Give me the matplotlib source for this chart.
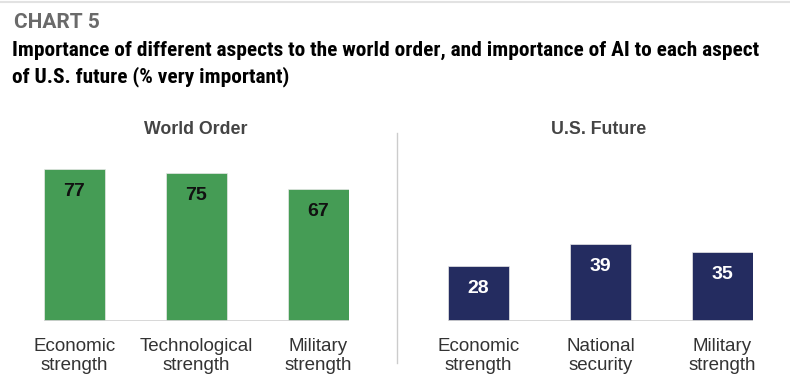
import matplotlib.pyplot as plt
from matplotlib.lines import Line2D

# data
world_labels = ["Economic\nstrength", "Technological\nstrength", "Military\nstrength"]
world_values = [77, 75, 67]
us_labels = ["Economic\nstrength", "National\nsecurity", "Military\nstrength"]
us_values = [28, 39, 35]

W, H = 790, 390
fig = plt.figure(figsize=(W / 100, H / 100), dpi=100)
fig.patch.set_facecolor("white")

green = "#459c55"
navy = "#242c60"
cond = ["Roboto Condensed", "Roboto", "DejaVu Sans"]
sans = ["Liberation Sans", "DejaVu Sans"]

# top rule
fig.add_artist(Line2D([0, 1], [1 - 1.5 / H, 1 - 1.5 / H], color="#e2e2e2", lw=1.5))

fig.text(14 / W, 1 - 13 / H, "CHART 5", family=["Roboto", "DejaVu Sans"], weight="bold",
         fontsize=15, color="#6a6a6a", va="top", ha="left")
title = fig.text(12 / W, 1 - 41 / H,
                 "Importance of different aspects to the world order, and importance of AI to each aspect\n"
                 "of U.S. future (% very important)",
                 family=cond, weight="bold", fontsize=14.5, color="black", va="top", ha="left",
                 linespacing=1.4)
# scale title to the ~750 px width the reference uses
r = fig.canvas.get_renderer()
w = title.get_window_extent(r).width
title.set_fontsize(14.5 * 750 / w)


def panel(left, labels, values, color, txtcolor):
    ax = fig.add_axes([left / W, 69 / H, 305 / W, 197 / H])
    x = range(len(values))
    ax.bar(x, values, width=0.5, color=color, edgecolor="#e8e8e8", linewidth=0.5)
    ax.set_xlim(-0.25, 2.25)
    ax.set_ylim(0, 100)
    ax.axhline(0, color="#d4d4d4", lw=2)
    for xi, v in zip(x, values):
        ax.text(xi, v - 11.5, str(v), ha="center", va="center", family=sans,
                weight="bold", fontsize=14, color=txtcolor)
    ax.set_xticks(list(x))
    ax.set_xticklabels(labels, family=sans, fontsize=13.5, color="#333333", linespacing=1.2)
    ax.tick_params(axis="x", length=0, pad=12)
    ax.set_yticks([])
    for s in ax.spines.values():
        s.set_visible(False)
    return ax


panel(44, world_labels, world_values, green, "#111111")
panel(448, us_labels, us_values, navy, "white")

# panel titles
fig.text(196 / W, 1 - 130 / H, "World Order", family=sans, weight="bold", fontsize=12.8,
         color="#444444", ha="center", va="center")
fig.text(599 / W, 1 - 130 / H, "U.S. Future", family=sans, weight="bold", fontsize=12.8,
         color="#444444", ha="center", va="center")

# separator
fig.add_artist(Line2D([397 / W, 397 / W], [1 - 363 / H, 1 - 133 / H], color="#cccccc", lw=1))

fig.savefig("out.png", dpi=100)
